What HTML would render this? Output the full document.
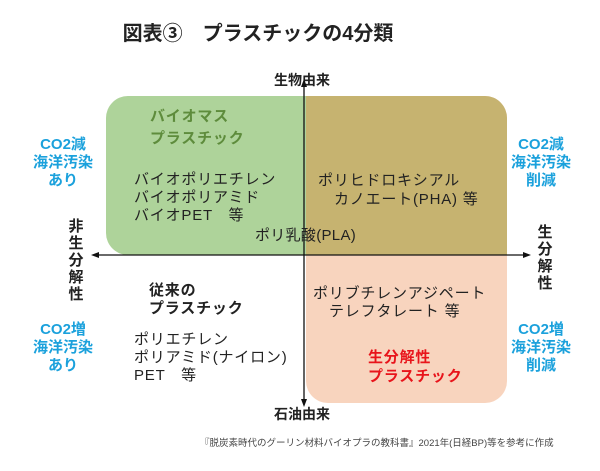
<!DOCTYPE html><html><head><meta charset="utf-8"><style>
body{margin:0;width:600px;height:471px;background:#fff;position:relative;overflow:hidden;font-family:"Liberation Sans","Noto Sans CJK JP",sans-serif;color:#222}
div{position:absolute;white-space:nowrap}
.t{font-size:15px;line-height:18px;letter-spacing:0.8px}
.b{font-weight:bold}
.blue{color:#1ba1dc;font-size:15px;line-height:18px;font-weight:bold;text-align:center;width:100px}
.v{font-size:15px;line-height:17px;font-weight:bold;width:16px;text-align:center}
</style></head><body>
<div class="b" style="left:0;width:516px;text-align:center;top:20px;font-size:20px;line-height:28px">図表③　プラスチックの4分類</div>
<div class="b" style="left:262px;width:80px;text-align:center;top:70px;font-size:14px;line-height:20px">生物由来</div>
<div style="left:106px;top:96px;width:240px;height:159px;background:#aed39a;border-radius:22px"></div>
<div style="left:306px;top:96px;width:201px;height:307px;background:#f8d4be;border-radius:0 22px 22px 22px"></div>
<div style="left:306px;top:96px;width:201px;height:159px;background:#c6b370;border-radius:0 22px 0 0"></div>
<svg style="position:absolute;left:0;top:0" width="600" height="471">
<line x1="304" y1="82" x2="304" y2="403" stroke="#111" stroke-width="1.3"/>
<polygon points="304,79 301,87 307,87" fill="#111"/>
<polygon points="304,407 301,399 307,399" fill="#111"/>
<line x1="94" y1="255" x2="528" y2="255" stroke="#111" stroke-width="1.3"/>
<polygon points="91,255 99,252 99,258" fill="#111"/>
<polygon points="531,255 523,252 523,258" fill="#111"/>
</svg>
<div class="t b" style="left:150px;top:106px;color:#5e8c3c;line-height:22px">バイオマス<br>プラスチック</div>
<div class="t" style="left:134px;top:171px">バイオポリエチレン<br>バイオポリアミド<br>バイオPET　等</div>
<div class="t" style="left:318px;top:172px">ポリヒドロキシアル</div>
<div class="t" style="left:334px;top:191px">カノエート(PHA) 等</div>
<div class="t" style="left:255px;top:227px;letter-spacing:0.3px">ポリ乳酸(PLA)</div>
<div class="t b" style="left:149px;top:282px">従来の<br>プラスチック</div>
<div class="t" style="left:134px;top:331px">ポリエチレン<br>ポリアミド(ナイロン)<br>PET　等</div>
<div class="t" style="left:313px;top:285px">ポリブチレンアジペート</div>
<div class="t" style="left:329px;top:303px">テレフタレート 等</div>
<div class="t b" style="left:368px;top:348px;color:#e8141b;line-height:19px">生分解性<br>プラスチック</div>
<div class="b" style="left:262px;width:80px;text-align:center;top:404px;font-size:14px;line-height:20px">石油由来</div>
<div class="blue" style="left:13px;top:136px">CO2減<br>海洋汚染<br>あり</div>
<div class="blue" style="left:13px;top:321px">CO2増<br>海洋汚染<br>あり</div>
<div class="blue" style="left:491px;top:136px">CO2減<br>海洋汚染<br>削減</div>
<div class="blue" style="left:491px;top:321px">CO2増<br>海洋汚染<br>削減</div>
<div class="v" style="left:68px;top:218px">非<br>生<br>分<br>解<br>性</div>
<div class="v" style="left:537px;top:224px">生<br>分<br>解<br>性</div>
<div style="left:200px;top:437px;font-size:9.5px;line-height:14px;color:#444">『脱炭素時代のグーリン材料バイオプラの教科書』2021年(日経BP)等を参考に作成</div>
</body></html>
